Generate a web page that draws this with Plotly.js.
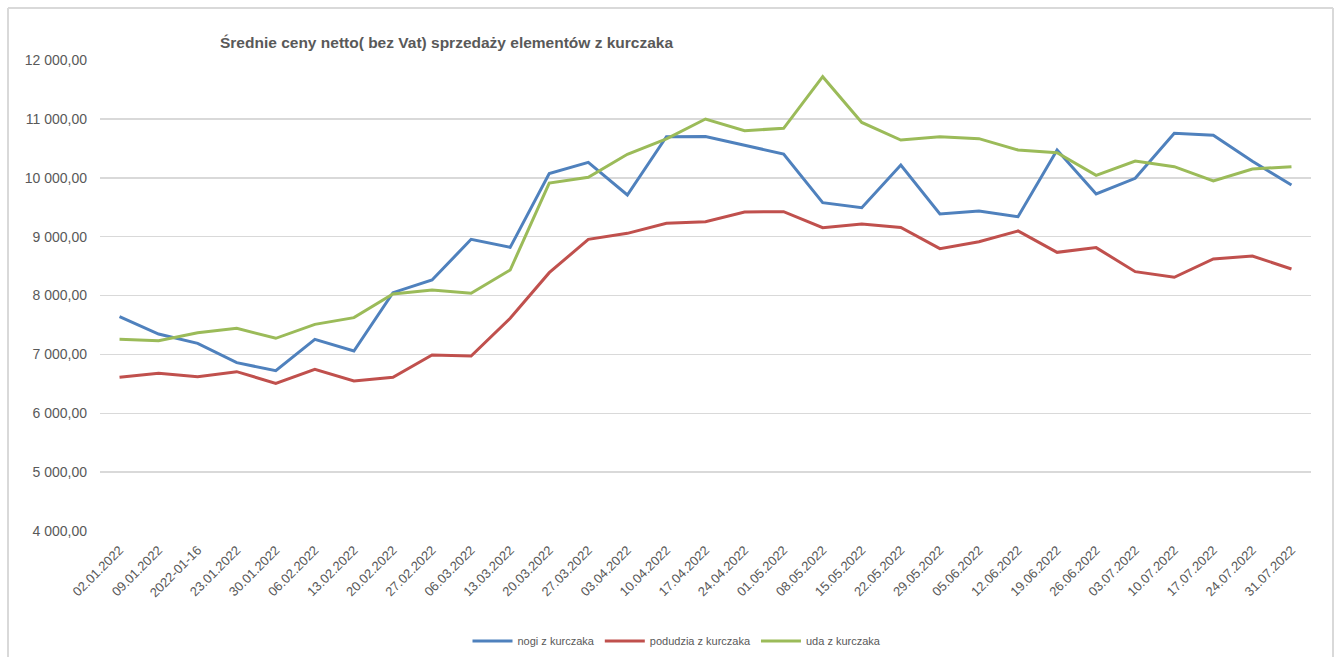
<!DOCTYPE html>
<html>
<head>
<meta charset="utf-8">
<script src="https://cdn.plot.ly/plotly-3.0.1.min.js"></script>
<style>html,body{margin:0;padding:0;background:#fff;}#chart{width:1335px;height:657px;}</style>
</head>
<body>
<div id="chart"></div>
<script>
const categories = ["02.01.2022","09.01.2022","2022-01-16","23.01.2022","30.01.2022","06.02.2022","13.02.2022","20.02.2022","27.02.2022","06.03.2022","13.03.2022","20.03.2022","27.03.2022","03.04.2022","10.04.2022","17.04.2022","24.04.2022","01.05.2022","08.05.2022","15.05.2022","22.05.2022","29.05.2022","05.06.2022","12.06.2022","19.06.2022","26.06.2022","03.07.2022","10.07.2022","17.07.2022","24.07.2022","31.07.2022"];
const nogi = [7640,7346,7188,6859,6723,7256,7057,8048,8263,8954,8818,10070,10262,9707,10698,10700,10551,10403,9577,9492,10217,9384,9435,9339,10471,9724,9990,10755,10721,10280,9877];
const podudzia = [6610,6678,6621,6706,6508,6746,6548,6610,6989,6972,7612,8388,8954,9056,9226,9254,9418,9424,9152,9214,9155,8795,8914,9096,8733,8813,8405,8309,8620,8671,8450];
const uda = [7256,7232,7368,7442,7273,7510,7624,8025,8093,8037,8433,9910,10007,10398,10660,10998,10800,10839,11717,10940,10641,10698,10664,10471,10426,10041,10285,10188,9945,10149,10188];
const seriesNames = ["nogi z kurczaka","podudzia z kurczaka","uda z kurczaka"];
const titleText = "Średnie ceny netto( bez Vat) sprzedaży elementów z kurczaka";

const colors = ["#4F81BD","#C0504D","#9BBB59"];
const font = "Liberation Sans, Arial, sans-serif";
const data = [nogi, podudzia, uda].map((ys, i) => ({
  type: "scatter", mode: "lines", x: categories, y: ys, name: seriesNames[i],
  line: {color: colors[i], width: 3}, hoverinfo: "x+y+name"
}));

const px = v => (v - 100) / 1211;
const py = v => (531 - v) / 471;
const border = {color: "#d9d9d9", width: 2};
const layout = {
  width: 1335, height: 657,
  margin: {l: 100, r: 24, t: 60, b: 126},
  paper_bgcolor: "#fff", plot_bgcolor: "#fff",
  separators: ", ",
  showlegend: true,
  title: {text: "<b>" + titleText + "</b>", font: {family: font, size: 15.5, color: "#595959"},
          xref: "container", x: 220/1335, xanchor: "left", yref: "container", y: 1 - 43/657, yanchor: "middle"},
  xaxis: {type: "category", range: [-0.5, categories.length - 0.5], tickangle: -45,
          tickfont: {family: font, size: 13, color: "#595959"},
          showgrid: false, zeroline: false, showline: false, ticks: "", ticklabelstandoff: 8, automargin: false},
  yaxis: {range: [4000, 12000], dtick: 1000, tickformat: ",.2f", tickfont: {family: font, size: 14, color: "#595959"},
          gridcolor: "#d9d9d9", gridwidth: 1.5, zeroline: false, showline: false, ticks: "", ticklabelstandoff: 12, automargin: false},
  legend: {orientation: "h", xref: "container", x: 677/1335, xanchor: "center", yref: "container", y: 1 - 641/657, yanchor: "middle",
           font: {family: font, size: 11, color: "#595959"}, itemwidth: 40, tracegroupgap: 0},
  shapes: [
    {type: "line", xref: "paper", yref: "paper", x0: px(8), x1: px(1333), y0: py(8), y1: py(8), line: border},
    {type: "line", xref: "paper", yref: "paper", x0: px(8), x1: px(8), y0: py(8), y1: py(657), line: border},
    {type: "line", xref: "paper", yref: "paper", x0: px(1333), x1: px(1333), y0: py(8), y1: py(657), line: border}
  ]
};
Plotly.newPlot("chart", data, layout, {displayModeBar: false, staticPlot: true});
</script>
</body>
</html>
